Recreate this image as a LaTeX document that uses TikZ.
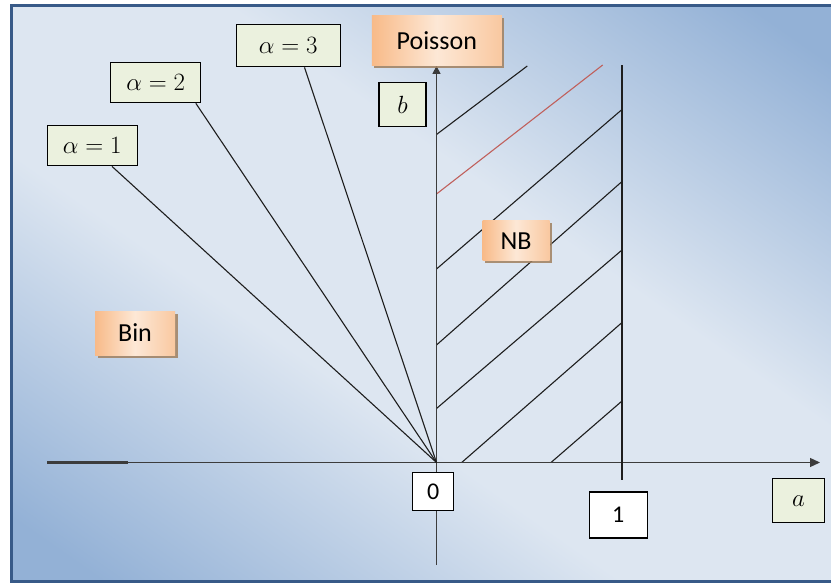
\documentclass[tikz,border=0pt]{standalone}
\usepackage[no-math]{fontspec}
\setmainfont{Carlito}
\usetikzlibrary{arrows.meta,calc,shadows}

\definecolor{bgdark}{HTML}{93B1D6}
\definecolor{bglight}{HTML}{DDE6F1}
\definecolor{framecol}{HTML}{385A88}
\definecolor{boxgreen}{HTML}{EBF1DE}
\definecolor{orangeA}{HTML}{F8BA88}
\definecolor{orangeB}{HTML}{FDE8D6}
\definecolor{orangeC}{HTML}{F9C8A0}
\definecolor{shadowbrown}{HTML}{A0805F}
\definecolor{inkline}{HTML}{1E1E1E}
\definecolor{axiscol}{HTML}{3C3C3C}
\definecolor{redline}{HTML}{C0605C}

% panel gradient: dark corners, wide light band across the middle
\pgfdeclareverticalshading{panelshade}{100bp}{%
  color(0bp)=(bgdark); color(19bp)=(bgdark); color(41bp)=(bglight);
  color(59bp)=(bglight); color(81bp)=(bgdark); color(100bp)=(bgdark)}

\pgfdeclarelayer{back}
\pgfsetlayers{back,main}

\begin{document}
\begin{tikzpicture}[x=1pt,y=-1pt,
  greenbox/.style={draw=black, line width=1.2pt, fill=boxgreen, inner sep=0pt,
    font=\fontsize{25}{30}\selectfont},
  whitebox/.style={draw=black, line width=1.2pt, fill=white, inner sep=0pt,
    font=\fontsize{24}{28}\selectfont},
  orangebox/.style={inner sep=0pt, left color=orangeA, right color=orangeC,
    middle color=orangeB,
    general shadow={shadow xshift=2.5pt, shadow yshift=-2.5pt, fill=shadowbrown, opacity=0.85},
    font=\fontsize{26}{31}\selectfont},
  thinline/.style={line width=1.1pt, draw=inkline},
  axisline/.style={line width=1.3pt, draw=axiscol},
  axisarrow/.style={-{Triangle[length=10pt,width=9pt]}}
]
\useasboundingbox (0,0) rectangle (831,584);
\clip (0,0) rectangle (831,584);

% labelled boxes
\node[greenbox, minimum width=90pt, minimum height=40pt] (a1) at (92.3,145.8) {$\alpha = 1$};
\node[greenbox, minimum width=90pt, minimum height=40pt] (a2) at (155.7,82.7) {$\alpha = 2$};
\node[greenbox, minimum width=104pt, minimum height=42pt] (a3) at (288.3,45.8) {$\alpha = 3$};
\node[greenbox, minimum width=47pt, minimum height=44pt] (bl) at (402.5,104.5) {$b$};
\node[greenbox, minimum width=52pt, minimum height=44pt] (al) at (798.6,500.8) {$a$};
\node[orangebox, minimum width=130pt, minimum height=50pt] (P) at (436.8,40.7) {Poisson};
\node[orangebox, minimum width=67pt, minimum height=40pt] (NB) at (516,240.7) {NB};
\node[orangebox, minimum width=80pt, minimum height=44pt] (Bin) at (135,333) {Bin};
\node[whitebox, minimum width=41pt, minimum height=38pt] (zero) at (433.3,491.7) {0};
\node[whitebox, minimum width=58pt, minimum height=46pt] (one) at (618.3,515) {1};

% reference points of the axes
\coordinate (O) at (436.5,462.5);
\coordinate (xL) at (47,462.5);
\coordinate (xR) at (820,462.5);
\coordinate (yB) at (436.5,565);
\coordinate (uT) at (622,65);
\coordinate (uB) at (622,480);

\begin{pgfonlayer}{back}
  % shaded panel with its frame
  \fill[shading=panelshade, shading angle=-35] (11.5,5.5) rectangle (840,581.5);
  \draw[framecol, line width=2.5pt] (11.5,5.5) rectangle (840,581.5);

  % hatching of the NB region
  \draw[thinline] (436.5,134.5) -- (527.3,66);
  \draw[line width=1.1pt, redline] (436.5,194) -- (602.7,65);
  \draw[thinline] (436.5,269) -- (622,109.5);
  \draw[thinline] (436.5,345) -- (622,181.5);
  \draw[thinline] (436.5,408.5) -- (622,250);
  \draw[thinline] (461.7,462.5) -- (622,322.5);
  \draw[thinline] (551,462.5) -- (622,401);

  % axes
  \draw[axisline, axisarrow] (xL) -- (xR);
  \draw[line width=2.2pt, axiscol] (xL) -- ++(81,0);
  \draw[axisline, -{Triangle[length=8pt,width=8pt]}] (yB) -- (yB |- P.south);
  \draw[line width=1.2pt, draw=inkline] (uT) -- (uB);
\end{pgfonlayer}

% rays from the alpha labels to the origin
\draw[thinline] ($(a1.south west)!0.716!(a1.south east)$) -- (O);
\draw[thinline] ($(a2.south west)!0.94!(a2.south east)$) -- (O);
\draw[thinline] ($(a3.south west)!0.654!(a3.south east)$) -- (O);
\end{tikzpicture}
\end{document}
